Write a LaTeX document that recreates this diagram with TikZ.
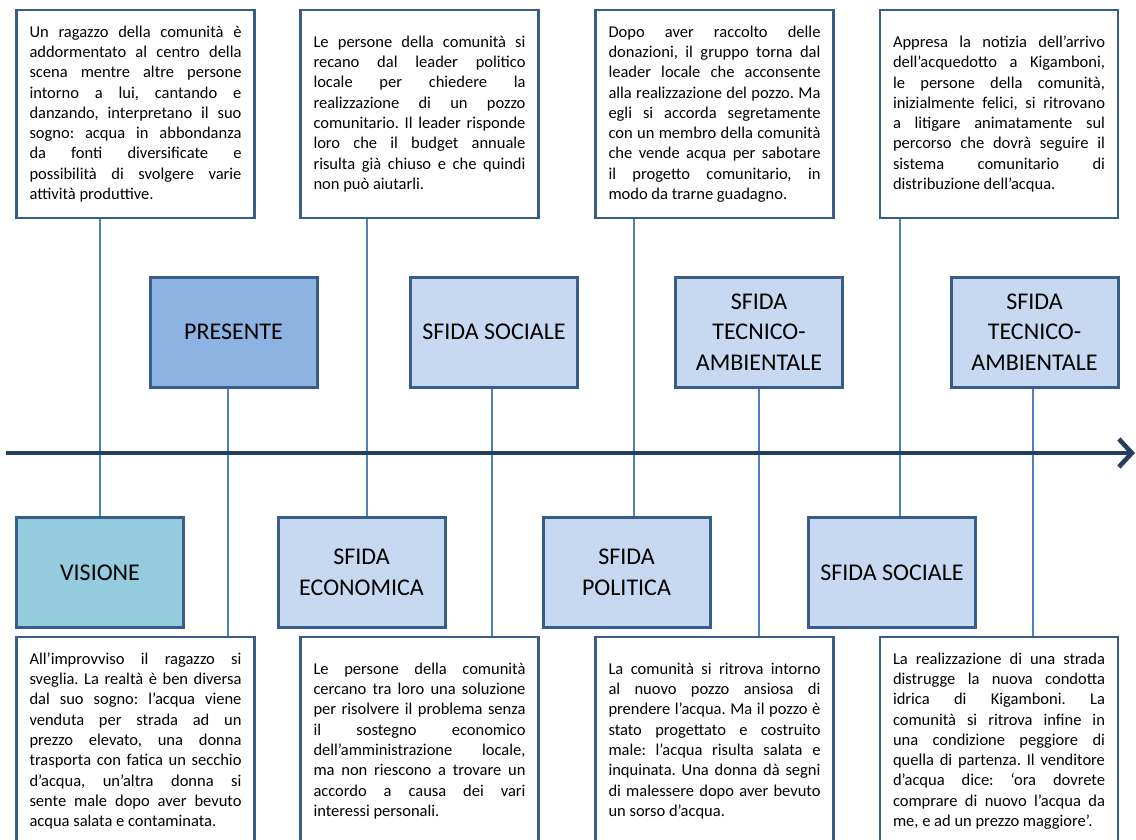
\documentclass[tikz,border=0pt]{standalone}
\usepackage{fontspec}
\setmainfont{Carlito}
\usetikzlibrary{arrows.meta}
\definecolor{boxline}{HTML}{385D8A}
\definecolor{conn}{HTML}{4F81BD}
\definecolor{axiscol}{HTML}{243F60}
\definecolor{sfida}{HTML}{C6D9F1}
\definecolor{pres}{HTML}{8DB3E2}
\definecolor{visc}{HTML}{93CDDD}
\newcommand\jl[1]{\hbox to 212pt{#1}}
\newcommand\lastl[1]{\hbox{#1}}
\hbadness=10000
\hfuzz=20pt
\frenchspacing
\begin{document}
\begin{tikzpicture}[x=1pt,y=-1pt,
  txtbox/.style={draw=boxline, line width=2.5pt, fill=white, minimum width=238pt, minimum height=208pt, inner sep=0pt, font=\fontsize{16.5}{20.3}\selectfont\frenchspacing},
  tag/.style={draw=boxline, line width=3pt, fill=sfida, minimum width=167pt, minimum height=110pt, inner sep=0pt, align=center, font=\fontsize{24}{30.5}\selectfont},
  vline/.style={draw=conn, line width=2.5pt},
  axisline/.style={draw=axiscol, line width=4.6pt, -{Straight Barb[length=13pt,width=28pt]}}
]
\useasboundingbox (0,0) rectangle (1136,840);
\clip (0,0) rectangle (1136,840);

% top text boxes
\node[txtbox] (t1) at (135.5,114) {\vbox{%
\jl{Un ragazzo della comunità è}
\jl{addormentato al centro della}
\jl{scena mentre altre persone}
\jl{intorno a lui, cantando e}
\jl{danzando, interpretano il suo}
\jl{sogno: acqua in abbondanza}
\jl{da fonti diversificate e}
\jl{possibilità di svolgere varie}
\lastl{attività produttive.}}};
\node[txtbox] (t2) at (419.5,114) {\vbox{%
\jl{Le persone della comunità si}
\jl{recano dal leader politico}
\jl{locale per chiedere la}
\jl{realizzazione di un pozzo}
\jl{comunitario. Il leader risponde}
\jl{loro che il budget annuale}
\jl{risulta già chiuso e che quindi}
\lastl{non può aiutarli.}}};
\node[txtbox] (t3) at (714.5,114) {\vbox{%
\jl{Dopo aver raccolto delle}
\jl{donazioni, il gruppo torna dal}
\jl{leader locale che acconsente}
\jl{alla realizzazione del pozzo. Ma}
\jl{egli si accorda segretamente}
\jl{con un membro della comunità}
\jl{che vende acqua per sabotare}
\jl{il progetto comunitario, in}
\lastl{modo da trarne guadagno.}}};
\node[txtbox] (t4) at (999,114) {\vbox{%
\jl{Appresa la notizia dell’arrivo}
\jl{dell’acquedotto a Kigamboni,}
\jl{le persone della comunità,}
\jl{inizialmente felici, si ritrovano}
\jl{a litigare animatamente sul}
\jl{percorso che dovrà seguire il}
\jl{sistema comunitario di}
\lastl{distribuzione dell’acqua.}}};

% bottom text boxes
\node[txtbox] (b1) at (135.5,741) {\vbox{%
\jl{All’improvviso il ragazzo si}
\jl{sveglia. La realtà è ben diversa}
\jl{dal suo sogno: l’acqua viene}
\jl{venduta per strada ad un}
\jl{prezzo elevato, una donna}
\jl{trasporta con fatica un secchio}
\jl{d’acqua, un’altra donna si}
\jl{sente male dopo aver bevuto}
\lastl{acqua salata e contaminata.}}};
\node[txtbox] (b2) at (419.5,741) {\vbox{%
\jl{Le persone della comunità}
\jl{cercano tra loro una soluzione}
\jl{per risolvere il problema senza}
\jl{il sostegno economico}
\jl{dell’amministrazione locale,}
\jl{ma non riescono a trovare un}
\jl{accordo a causa dei vari}
\lastl{interessi personali.}}};
\node[txtbox] (b3) at (714.5,741) {\vbox{%
\jl{La comunità si ritrova intorno}
\jl{al nuovo pozzo ansiosa di}
\jl{prendere l’acqua. Ma il pozzo è}
\jl{stato progettato e costruito}
\jl{male: l’acqua risulta salata e}
\jl{inquinata. Una donna dà segni}
\jl{di malessere dopo aver bevuto}
\lastl{un sorso d’acqua.}}};
\node[txtbox] (b4) at (999,741) {\vbox{%
\jl{La realizzazione di una strada}
\jl{distrugge la nuova condotta}
\jl{idrica di Kigamboni. La}
\jl{comunità si ritrova infine in}
\jl{una condizione peggiore di}
\jl{quella di partenza. Il venditore}
\jl{d’acqua dice: ‘ora dovrete}
\jl{comprare di nuovo l’acqua da}
\lastl{me, e ad un prezzo maggiore’.}}};

% label boxes
\node[tag, fill=pres] (presente) at (233.5,332) {PRESENTE};
\node[tag] (sociale1) at (494,332) {SFIDA SOCIALE};
\node[tag] (tecnico1) at (759,332) {SFIDA\\TECNICO-\\AMBIENTALE};
\node[tag] (tecnico2) at (1034.5,332) {SFIDA\\TECNICO-\\AMBIENTALE};
\node[tag, fill=visc] (visione) at (100,572.5) {VISIONE};
\node[tag] (economica) at (361.5,572.5) {SFIDA\\ECONOMICA};
\node[tag] (politica) at (626.5,572.5) {SFIDA\\POLITICA};
\node[tag] (sociale2) at (892,572.5) {SFIDA SOCIALE};

% connectors
\draw[vline] (visione.north |- t1.south) -- (visione.north);
\draw[vline] ([xshift=-5.5pt]presente.south) -- ([xshift=-5.5pt]presente.south |- b1.north);
\draw[vline] ([xshift=5.5pt]economica.north |- t2.south) -- ([xshift=5.5pt]economica.north);
\draw[vline] ([xshift=-2pt]sociale1.south) -- ([xshift=-2pt]sociale1.south |- b2.north);
\draw[vline] ([xshift=7.5pt]politica.north |- t3.south) -- ([xshift=7.5pt]politica.north);
\draw[vline] (tecnico1.south) -- (tecnico1.south |- b3.north);
\draw[vline] ([xshift=8pt]sociale2.north |- t4.south) -- ([xshift=8pt]sociale2.north);
\draw[vline] ([xshift=-1.5pt]tecnico2.south) -- ([xshift=-1.5pt]tecnico2.south |- b4.north);

% axis
\coordinate (axL) at (6,453);
\coordinate (axR) at (1135,453);
\draw[axisline] (axL) -- (axR);
\end{tikzpicture}
\end{document}
